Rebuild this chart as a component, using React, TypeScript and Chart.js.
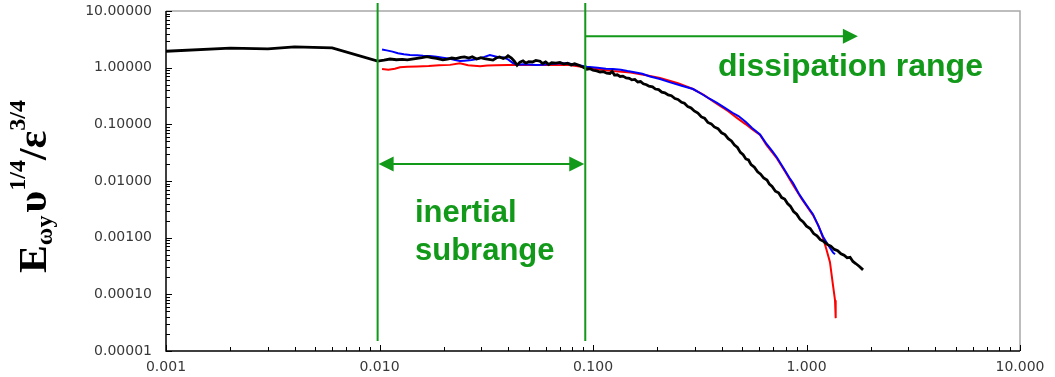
import React, { useEffect, useRef } from "react";
import { Chart, registerables } from "chart.js";

Chart.register(...registerables);

// ---- Axis ticks ----
const xTicks = [0.001, 0.01, 0.1, 1, 10];
const yTicks = [0.00001, 0.0001, 0.001, 0.01, 0.1, 1, 10];

// ---- Black series ----
const blackX = [0.001, 0.002, 0.003, 0.004, 0.006, 0.0098, 0.0105, 0.0112, 0.012, 0.0128, 0.0135, 0.0142, 0.015, 0.0158, 0.0167, 0.0175, 0.0185, 0.0198, 0.0208, 0.0218, 0.0228, 0.024, 0.025, 0.0262, 0.0272, 0.0285, 0.0298, 0.031, 0.0325, 0.034, 0.0352, 0.0365, 0.038, 0.0392, 0.04, 0.0415, 0.0428, 0.0441, 0.0455, 0.047, 0.0485, 0.05, 0.052, 0.054, 0.0565, 0.058, 0.06, 0.062, 0.064, 0.067, 0.07, 0.073, 0.076, 0.079, 0.082, 0.086, 0.09, 0.0937, 0.097,
  0.1, 0.104, 0.108, 0.112, 0.116, 0.12, 0.123, 0.126, 0.13, 0.134, 0.138, 0.143, 0.148, 0.152, 0.157, 0.162, 0.167, 0.172, 0.178, 0.183, 0.19, 0.196, 0.203, 0.21, 0.217, 0.225, 0.233, 0.242, 0.25, 0.26, 0.268, 0.278, 0.288, 0.298, 0.31, 0.322, 0.333, 0.345, 0.358, 0.37, 0.385, 0.4, 0.415, 0.43, 0.445, 0.46, 0.475, 0.49, 0.505, 0.52, 0.535, 0.55, 0.57, 0.59, 0.61, 0.63, 0.653, 0.67, 0.69, 0.715, 0.74, 0.765, 0.79, 0.815, 0.84, 0.87, 0.9, 0.933, 0.965, 1.0, 1.04, 1.08, 1.12, 1.16, 1.2, 1.25, 1.3, 1.35, 1.4, 1.45, 1.5, 1.55, 1.6, 1.65, 1.7, 1.77, 1.84];
const blackY = [1.95, 2.22, 2.14, 2.32, 2.24, 1.31, 1.36, 1.42, 1.38, 1.4, 1.37, 1.41, 1.46, 1.5, 1.56, 1.5, 1.46, 1.37, 1.42, 1.48, 1.44, 1.52, 1.55, 1.48, 1.56, 1.42, 1.5, 1.44, 1.4, 1.36, 1.48, 1.55, 1.45, 1.52, 1.62, 1.48, 1.3, 1.1, 1.25, 1.32, 1.2, 1.28, 1.26, 1.34, 1.3, 1.18, 1.26, 1.14, 1.22, 1.2, 1.24, 1.16, 1.2, 1.12, 1.17, 1.1, 1.02, 0.94, 0.96,
  0.9, 0.88, 0.84, 0.85, 0.8, 0.79, 0.86, 0.74, 0.75, 0.7, 0.71, 0.66, 0.65, 0.61, 0.62, 0.56, 0.57, 0.52, 0.5, 0.47, 0.46, 0.42, 0.41, 0.37, 0.36, 0.33, 0.32, 0.285, 0.275, 0.245, 0.235, 0.205, 0.195, 0.172, 0.158, 0.135, 0.128, 0.108, 0.102, 0.09, 0.084, 0.071, 0.066, 0.056, 0.051, 0.043, 0.039, 0.032, 0.029, 0.0245, 0.0235, 0.0195, 0.0175, 0.0145, 0.0132, 0.0113, 0.0104, 0.0088, 0.008, 0.0066, 0.0062, 0.0051, 0.0048, 0.004, 0.0036, 0.0029, 0.0026, 0.0021, 0.0019, 0.0016, 0.00145, 0.00118, 0.00108, 0.00092, 0.00087, 0.00076, 0.00071, 0.00062, 0.00059, 0.00052, 0.00049, 0.00044, 0.00045, 0.00038, 0.00035, 0.00031, 0.00027];

// ---- Blue series ----
const blueX = [0.01028, 0.0108, 0.0115, 0.0122, 0.013, 0.0139, 0.015, 0.016, 0.0172, 0.0185, 0.0198, 0.0214, 0.0226, 0.0238, 0.025, 0.027, 0.029, 0.031, 0.0329, 0.035, 0.037, 0.0379, 0.04, 0.042, 0.0441, 0.047, 0.05, 0.054, 0.0583, 0.063, 0.068, 0.0755, 0.082, 0.0937, 0.105, 0.115, 0.124, 0.135, 0.145, 0.154, 0.17, 0.185, 0.206, 0.23, 0.26, 0.294, 0.32, 0.353, 0.381, 0.42, 0.45, 0.48, 0.52, 0.556, 0.606, 0.65, 0.69, 0.727, 0.78, 0.83, 0.865, 0.92, 0.98, 1.03, 1.072, 1.13, 1.194, 1.26, 1.33, 1.36];
const blueY = [2.1, 2.02, 1.92, 1.8, 1.72, 1.68, 1.66, 1.62, 1.6, 1.56, 1.5, 1.44, 1.36, 1.31, 1.33, 1.36, 1.44, 1.55, 1.67, 1.58, 1.5, 1.52, 1.4, 1.22, 1.12, 1.15, 1.14, 1.12, 1.13, 1.16, 1.18, 1.2, 1.14, 1.04, 1.0, 0.96, 0.95, 0.92, 0.87, 0.84, 0.78, 0.7, 0.63, 0.55, 0.48, 0.42, 0.35, 0.28, 0.24, 0.19, 0.16, 0.14, 0.11, 0.086, 0.066, 0.045, 0.034, 0.026, 0.017, 0.0115, 0.0092, 0.006, 0.0042, 0.0032, 0.0026, 0.0017, 0.00105, 0.00075, 0.00055, 0.00051];

// ---- Red series ----
const redX = [0.01028, 0.011, 0.0118, 0.01247, 0.0135, 0.015, 0.017, 0.019, 0.0214, 0.0238, 0.026, 0.0296, 0.032, 0.035, 0.04, 0.0455, 0.052, 0.06, 0.0755, 0.085, 0.0937, 0.105, 0.124, 0.15, 0.175, 0.206, 0.25, 0.294, 0.33, 0.381, 0.43, 0.472, 0.52, 0.556, 0.606, 0.65, 0.727, 0.8, 0.865, 0.95, 1.072, 1.14, 1.194, 1.24, 1.288, 1.33, 1.36, 1.37];
const redY = [0.95, 0.92, 0.96, 1.02, 1.04, 1.05, 1.07, 1.1, 1.12, 1.2, 1.1, 1.06, 1.09, 1.1, 1.11, 1.12, 1.11, 1.12, 1.12, 1.06, 1.0, 0.94, 0.87, 0.82, 0.74, 0.66, 0.53, 0.42, 0.33, 0.23, 0.17, 0.13, 0.1, 0.082, 0.065, 0.043, 0.025, 0.014, 0.0085, 0.0048, 0.0025, 0.0016, 0.001, 0.00062, 0.00037, 0.000147, 0.000079, 0.000038];

// ---- Annotations (data coordinates) ----
const rangeLinesX = [0.0098, 0.092];
const lineTopY = 13.8;
const lineBottomY = 0.000015;
const dissArrowY = 3.6;
const dissArrowEndX = 1.74;
const inertArrowY = 0.02;
const dissLabel = "dissipation range";
const dissLabelPos = { x: 0.385, y: 0.71 };
const inertLabel1 = "inertial";
const inertLabel2 = "subrange";
const inertLabelX = 0.01466;
const inertLabelY1 = 0.0019;
const inertLabelY2 = 0.00041;

const GREEN = "#12991a";

function pts(xs: number[], ys: number[]) {
  return xs.map((x, i) => ({ x, y: ys[i] }));
}

export default function App() {
  const ref = useRef<HTMLCanvasElement>(null);

  useEffect(() => {
    if (!ref.current) return;

    const arrowHead = (ctx: CanvasRenderingContext2D, tipX: number, y: number, dir: number) => {
      ctx.beginPath();
      ctx.moveTo(tipX, y);
      ctx.lineTo(tipX - dir * 15, y - 7.5);
      ctx.lineTo(tipX - dir * 15, y + 7.5);
      ctx.closePath();
      ctx.fill();
    };

    const framePlugin = {
      id: "frame",
      beforeDatasetsDraw(chart: any) {
        const { ctx, chartArea: a } = chart;
        ctx.save();
        ctx.strokeStyle = "#a8a8a8";
        ctx.lineWidth = 1.5;
        ctx.beginPath();
        ctx.moveTo(a.left, a.top);
        ctx.lineTo(a.right, a.top);
        ctx.lineTo(a.right, a.bottom);
        ctx.stroke();
        ctx.restore();
      },
      afterDatasetsDraw(chart: any) {
        const { ctx, chartArea: a, scales } = chart;
        const xs = scales.x;
        const ys = scales.y;
        ctx.save();
        ctx.strokeStyle = "#000";
        ctx.lineWidth = 1.5;
        ctx.beginPath();
        ctx.moveTo(a.left, a.top);
        ctx.lineTo(a.left, a.bottom);
        ctx.lineTo(a.right, a.bottom);
        ctx.stroke();
        ctx.lineWidth = 1;
        ctx.beginPath();
        for (let d = -3; d <= 1; d++) {
          for (let m = 1; m <= 9; m++) {
            const v = m * Math.pow(10, d);
            if (v > 10.0001) break;
            const px = Math.round(xs.getPixelForValue(v)) + 0.5;
            const len = m === 1 ? 6 : 4;
            ctx.moveTo(px, a.bottom);
            ctx.lineTo(px, a.bottom - len);
          }
        }
        for (let d = -5; d <= 1; d++) {
          for (let m = 1; m <= 9; m++) {
            const v = m * Math.pow(10, d);
            if (v > 10.0001) break;
            const py = Math.round(ys.getPixelForValue(v)) + 0.5;
            const len = m === 1 ? 6 : 4;
            ctx.moveTo(a.left, py);
            ctx.lineTo(a.left + len, py);
          }
        }
        ctx.stroke();

        ctx.strokeStyle = GREEN;
        ctx.fillStyle = GREEN;
        ctx.lineWidth = 2;
        const lx = rangeLinesX.map((v) => xs.getPixelForValue(v));
        const ty = ys.getPixelForValue(lineTopY);
        const by = ys.getPixelForValue(lineBottomY);
        ctx.beginPath();
        lx.forEach((x) => {
          ctx.moveTo(x, ty);
          ctx.lineTo(x, by);
        });
        const dy = ys.getPixelForValue(dissArrowY);
        const dEnd = xs.getPixelForValue(dissArrowEndX);
        ctx.moveTo(lx[1], dy);
        ctx.lineTo(dEnd - 10, dy);
        const iy = ys.getPixelForValue(inertArrowY);
        ctx.moveTo(lx[0] + 10, iy);
        ctx.lineTo(lx[1] - 10, iy);
        ctx.stroke();
        arrowHead(ctx, dEnd, dy, 1);
        arrowHead(ctx, lx[0] + 1, iy, -1);
        arrowHead(ctx, lx[1] - 1, iy, 1);

        ctx.textAlign = "left";
        ctx.textBaseline = "alphabetic";
        ctx.font = "bold 32px 'Liberation Sans', Arial, sans-serif";
        ctx.fillText(dissLabel, xs.getPixelForValue(dissLabelPos.x), ys.getPixelForValue(dissLabelPos.y));
        ctx.font = "bold 31px 'Liberation Sans', Arial, sans-serif";
        const ix = xs.getPixelForValue(inertLabelX);
        ctx.fillText(inertLabel1, ix, ys.getPixelForValue(inertLabelY1));
        ctx.fillText(inertLabel2, ix, ys.getPixelForValue(inertLabelY2));
        ctx.restore();
      },
      afterDraw(chart: any) {
        const { ctx } = chart;
        const main = "bold 40px 'Liberation Serif', 'Times New Roman', serif";
        const small = "bold 23px 'Liberation Serif', 'Times New Roman', serif";
        const pieces = [
          { t: "E", f: main, dy: 0 },
          { t: "\u03C9y", f: small, dy: 6 },
          { t: "\u03C5", f: main, dy: 0 },
          { t: "1/4", f: small, dy: -21 },
          { t: "/", f: main, dy: 0 },
          { t: "\u03B5", f: main, dy: 0 },
          { t: "3/4", f: small, dy: -21 },
        ];
        ctx.save();
        let total = 0;
        const widths = pieces.map((p) => {
          ctx.font = p.f;
          const w = ctx.measureText(p.t).width;
          total += w;
          return w;
        });
        total += 3;
        const sx = 173 / total;
        ctx.translate(46, 273);
        ctx.rotate(-Math.PI / 2);
        ctx.scale(sx, 1);
        ctx.fillStyle = "#000";
        ctx.textAlign = "left";
        ctx.textBaseline = "alphabetic";
        let x = 0;
        pieces.forEach((p, i) => {
          ctx.font = p.f;
          ctx.fillText(p.t, x, p.dy);
          x += widths[i];
          if (i === 1) x += 3;
        });
        ctx.restore();
      },
    };

    const tickFont = { family: "'DejaVu Sans', sans-serif", size: 14 };

    const chart = new Chart(ref.current, {
      type: "line",
      data: {
        datasets: [
          { data: pts(blackX, blackY), borderColor: "#000", borderWidth: 2.8, pointRadius: 0, tension: 0 },
          { data: pts(blueX, blueY), borderColor: "#0000ff", borderWidth: 2, pointRadius: 0, tension: 0 },
          { data: pts(redX, redY), borderColor: "#ff0000", borderWidth: 2, pointRadius: 0, tension: 0 },
        ],
      },
      options: {
        responsive: false,
        animation: false,
        layout: { padding: { top: 11, right: 35, left: 0, bottom: 0 } },
        plugins: { legend: { display: false }, tooltip: { enabled: false }, title: { display: false } },
        scales: {
          x: {
            type: "logarithmic",
            min: 0.001,
            max: 10,
            grid: { display: false, drawTicks: false, tickLength: 0 },
            border: { display: false },
            afterBuildTicks: (s: any) => {
              s.ticks = xTicks.map((v) => ({ value: v }));
            },
            afterFit: (s: any) => {
              s.height = 26;
              s.paddingLeft = 0;
              s.paddingRight = 0;
              s.paddingTop = 0;
              s.paddingBottom = 0;
            },
            ticks: {
              autoSkip: false,
              maxRotation: 0,
              padding: 8,
              color: "#383838",
              font: tickFont,
              callback: (v: any) => Number(v).toFixed(3),
            },
          },
          y: {
            type: "logarithmic",
            min: 0.00001,
            max: 10,
            grid: { display: false, drawTicks: false, tickLength: 0 },
            border: { display: false },
            afterBuildTicks: (s: any) => {
              s.ticks = yTicks.map((v) => ({ value: v }));
            },
            afterFit: (s: any) => {
              s.width = 166;
              s.paddingLeft = 0;
              s.paddingRight = 0;
              s.paddingTop = 0;
              s.paddingBottom = 0;
            },
            ticks: {
              autoSkip: false,
              padding: 14,
              color: "#383838",
              font: tickFont,
              callback: (v: any) => Number(v).toFixed(5),
            },
          },
        },
      } as any,
      plugins: [framePlugin],
    });

    return () => chart.destroy();
  }, []);

  return (
    <div style={{ position: "absolute", left: 0, top: 0, width: 1055, height: 377, background: "#fff" }}>
      <canvas ref={ref} width={1055} height={377} style={{ display: "block" }} />
    </div>
  );
}
